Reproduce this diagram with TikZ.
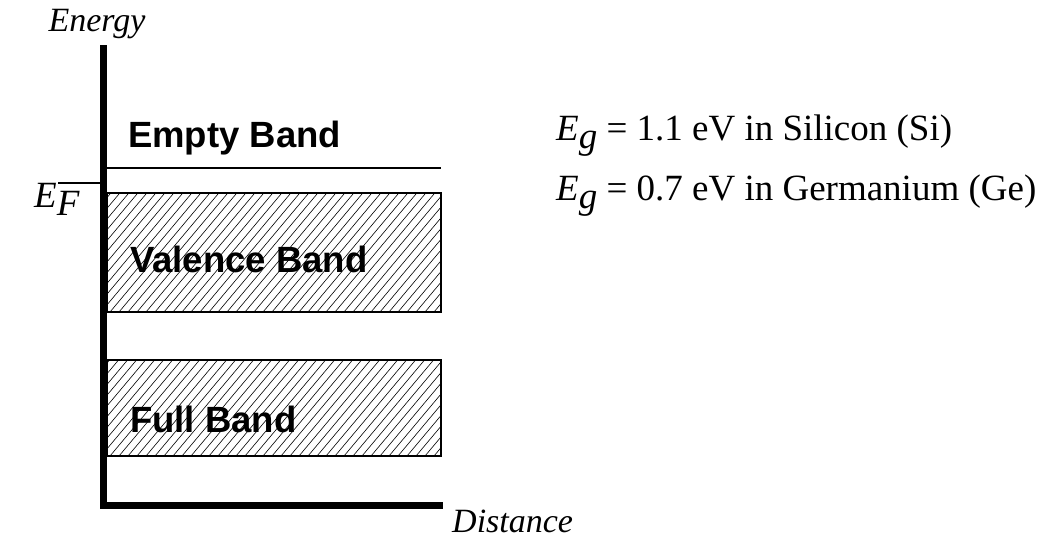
\documentclass[tikz,border=0pt]{standalone}
\usepackage{fontspec}
\setmainfont{Liberation Serif}
\setsansfont{Liberation Sans}
\begin{document}
\begin{tikzpicture}[x=1pt,y=-1pt,
  axis/.style={line width=7pt,line join=miter},
  level/.style={line width=1.4pt},
  bandbox/.style={line width=1.4pt},
  hatch/.style={line width=0.6pt},
  bandlabel/.style={anchor=base west,inner sep=0pt,font=\sffamily\bfseries\fontsize{36.5}{40}\selectfont},
  axislabel/.style={inner sep=0pt,font=\itshape\fontsize{34}{38}\selectfont},
  gaplabel/.style={anchor=base west,inner sep=0pt,font=\fontsize{37}{42}\selectfont}]
\useasboundingbox (0,0) rectangle (1047,541);

% axes
\coordinate (top) at (103.5,45);
\coordinate (corner) at (103.5,505);
\coordinate (right) at (443,505);
\draw[axis] (top) -- (corner) -- (right);

% empty band edge and Fermi level mark
\coordinate (e1) at (107,168);
\coordinate (e2) at (441,168);
\draw[level] (e1) -- (e2);
\coordinate (f1) at (58,183);
\coordinate (f2) at (100,183);
\draw[level] (f1) -- (f2);

% hatched bands
\foreach \name/\ya/\yb in {valence/193/312, full/360/456}{
  \begin{scope}
    \clip (107,\ya) rectangle (441,\yb);
    \foreach \k in {0,9,...,500}{
      \draw[hatch] (107+\k-150,\yb) -- ++(150,-178.8);
    }
  \end{scope}
  \draw[bandbox] (107,\ya) rectangle (441,\yb);
}

% band names
\node[bandlabel] (empty) at (128,147) {Empty Band};
\node[bandlabel] (val) at (130,272) {Valence Band};
\node[bandlabel] (fullb) at (130,432) {Full Band};

% axis labels
\node[axislabel,anchor=base] (energy) at (97,31) {Energy};
\node[axislabel,anchor=base west] (dist) at (452,532) {Distance};
\node[axislabel,anchor=base west,font=\itshape\fontsize{37}{42}\selectfont] (ef) at (34,207) {E\raisebox{-8pt}{F}};

% band gap values
\node[gaplabel] (si) at (556,140) {\textit{E}\raisebox{-8pt}{\textit{g}} = 1.1 eV in Silicon (Si)};
\node[gaplabel] (ge) at (556,200) {\textit{E}\raisebox{-8pt}{\textit{g}} = 0.7 eV in Germanium (Ge)};
\end{tikzpicture}
\end{document}
